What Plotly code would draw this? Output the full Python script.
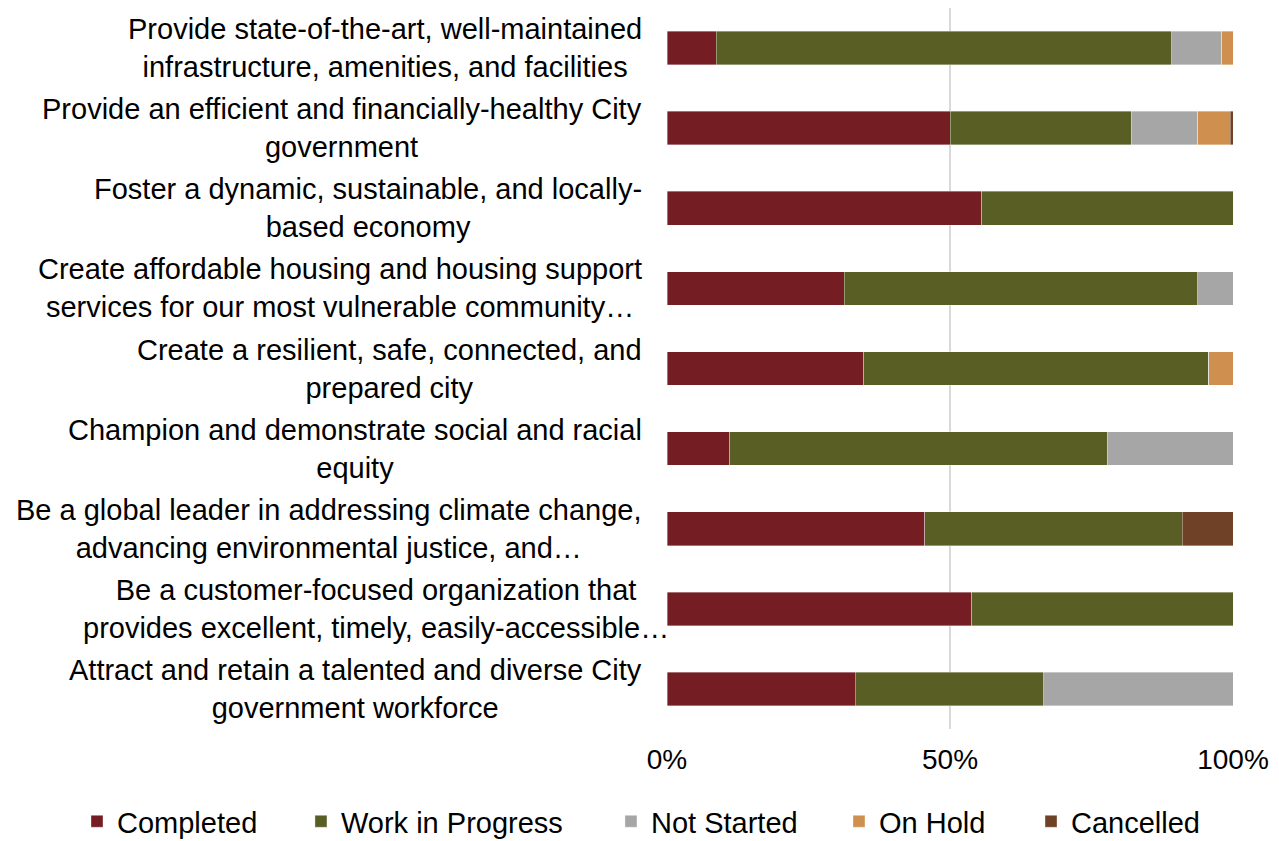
import plotly.graph_objects as go

goals = [
    "Provide state-of-the-art, well-maintained<br>infrastructure, amenities, and facilities",
    "Provide an efficient and financially-healthy City<br>government",
    "Foster a dynamic, sustainable, and locally-<br>based economy",
    "Create affordable housing and housing support<br>services for our most vulnerable community…",
    "Create a resilient, safe, connected, and<br>prepared city",
    "Champion and demonstrate social and racial<br>equity",
    "Be a global leader in addressing climate change,<br>advancing environmental justice, and…",
    "Be a customer-focused organization that<br>provides excellent, timely, easily-accessible…",
    "Attract and retain a talented and diverse City<br>government workforce",
]

# percent of actions per status
completed = [8.7, 50.0, 55.6, 31.3, 34.8, 11.1, 45.5, 53.8, 33.3]
in_progress = [80.5, 32.0, 44.4, 62.5, 60.9, 66.7, 45.5, 46.2, 33.3]
not_started = [8.8, 11.8, 0, 6.2, 0, 22.2, 0, 0, 33.4]
on_hold = [2.0, 5.7, 0, 0, 4.3, 0, 0, 0, 0]
cancelled = [0, 0.5, 0, 0, 0, 0, 9.0, 0, 0]

x_ticks = [0, 50, 100]
x_tick_text = ["0%", "50%", "100%"]

series = [
    ("Completed", completed, "#741e24", "legend"),
    ("Work in Progress", in_progress, "#585e24", "legend2"),
    ("Not Started", not_started, "#a6a6a6", "legend3"),
    ("On Hold", on_hold, "#cf904f", "legend4"),
    ("Cancelled", cancelled, "#6f4126", "legend5"),
]

FONT = "Liberation Sans, Arial, sans-serif"

fig = go.Figure()
for name, vals, color, leg in series:
    fig.add_trace(go.Bar(
        y=goals, x=vals, name=name, orientation="h",
        marker=dict(color=color, line=dict(color="rgba(255,255,255,0.45)", width=0.8)),
        legend=leg, showlegend=True,
    ))

# category labels, centred lines like the original
# (the long customer-focused label spills over the axis in the original)
for i, g in enumerate(goals):
    fig.add_annotation(
        x=-0.041, xref="paper", y=g, yref="y", text=g,
        xanchor="right", yanchor="middle", align="center", showarrow=False,
        xshift=27 if i == 7 else 0,
        font=dict(family=FONT, size=29, color="#000000"),
    )

leg_common = dict(orientation="h", xref="container", yref="container",
                  yanchor="middle", y=0.0235, xanchor="left",
                  font=dict(family=FONT, size=29, color="#000000"),
                  bgcolor="rgba(0,0,0,0)")
# page body adds an 8px offset, so the figure is drawn 8px smaller
fig.update_layout(
    barmode="stack",
    bargap=0.58,
    showlegend=True,
    width=1271, height=833,
    margin=dict(l=659, r=46, t=0, b=112),
    plot_bgcolor="white", paper_bgcolor="white",
    font=dict(family=FONT, size=28, color="#000000"),
    xaxis=dict(range=[0, 100], tickvals=x_ticks, ticktext=x_tick_text,
               showgrid=True, gridcolor="#d9d9d9", gridwidth=1.5,
               zeroline=False, showline=False, ticklabelstandoff=11,
               automargin=False,
               tickfont=dict(family=FONT, size=28, color="#000000")),
    yaxis=dict(autorange="reversed", showticklabels=False, showgrid=False,
               zeroline=False, automargin=False),
    legend=dict(leg_common, x=0.0543),
    legend2=dict(leg_common, x=0.2305),
    legend3=dict(leg_common, x=0.4744),
    legend4=dict(leg_common, x=0.6538),
    legend5=dict(leg_common, x=0.8049),
)

fig.write_html("out.html")
